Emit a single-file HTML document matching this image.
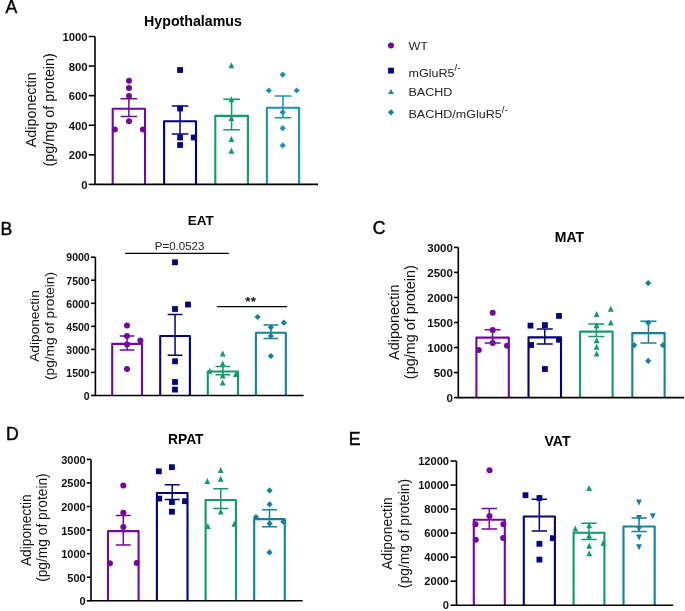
<!DOCTYPE html>
<html><head><meta charset="utf-8"><style>
html,body{margin:0;padding:0;background:#fff;}
svg{display:block;font-family:"Liberation Sans", sans-serif;}
svg{will-change:transform;}
</style></head><body>
<svg width="685" height="611" viewBox="0 0 685 611">
<rect width="685" height="611" fill="#fff"/>
<text transform="translate(35.60,109.80) rotate(-90)" x="0" y="0" font-size="14.35" text-anchor="middle" fill="#111">Adiponectin</text>
<text transform="translate(53.60,109.80) rotate(-90)" x="0" y="0" font-size="14.35" text-anchor="middle" fill="#111">(pg/mg of protein)</text>
<text x="5.50" y="13.20" font-size="17.6" font-weight="normal" text-anchor="start" fill="#000" stroke="#000" stroke-width="0.45">A</text>
<text x="193.00" y="25.60" font-size="14.2" font-weight="bold" text-anchor="middle" fill="#000" >Hypothalamus</text>
<path d="M112.70,184.40V108.80H145.00V184.40" fill="none" stroke="#73089e" stroke-width="2.1" stroke-linejoin="round"/>
<path d="M164.10,184.40V121.20H196.00V184.40" fill="none" stroke="#03017f" stroke-width="2.1" stroke-linejoin="round"/>
<path d="M215.30,184.40V115.90H247.90V184.40" fill="none" stroke="#129a68" stroke-width="2.1" stroke-linejoin="round"/>
<path d="M266.90,184.40V107.70H299.10V184.40" fill="none" stroke="#1893b2" stroke-width="2.1" stroke-linejoin="round"/>
<circle cx="129.00" cy="80.80" r="3.0" fill="#73089e"/>
<circle cx="129.00" cy="88.00" r="3.0" fill="#73089e"/>
<circle cx="129.00" cy="95.90" r="3.0" fill="#73089e"/>
<circle cx="129.00" cy="121.30" r="3.0" fill="#73089e"/>
<circle cx="114.80" cy="129.60" r="3.0" fill="#73089e"/>
<circle cx="142.90" cy="129.60" r="3.0" fill="#73089e"/>
<rect x="177.20" y="67.10" width="5.8" height="5.8" fill="#03017f"/>
<rect x="177.20" y="105.60" width="5.8" height="5.8" fill="#03017f"/>
<rect x="177.20" y="134.60" width="5.8" height="5.8" fill="#03017f"/>
<rect x="177.20" y="142.10" width="5.8" height="5.8" fill="#03017f"/>
<rect x="190.90" y="134.60" width="5.8" height="5.8" fill="#03017f"/>
<path d="M228.50,68.20L234.30,68.20L231.40,62.20Z" fill="#129a68"/>
<path d="M228.50,102.20L234.30,102.20L231.40,96.20Z" fill="#129a68"/>
<path d="M228.50,121.00L234.30,121.00L231.40,115.00Z" fill="#129a68"/>
<path d="M228.50,142.10L234.30,142.10L231.40,136.10Z" fill="#129a68"/>
<path d="M228.50,153.80L234.30,153.80L231.40,147.80Z" fill="#129a68"/>
<path d="M282.70,71.50L285.80,74.60L282.70,77.70L279.60,74.60Z" fill="#1893b2"/>
<path d="M268.80,87.40L271.90,90.50L268.80,93.60L265.70,90.50Z" fill="#1893b2"/>
<path d="M296.70,87.40L299.80,90.50L296.70,93.60L293.60,90.50Z" fill="#1893b2"/>
<path d="M282.70,109.20L285.80,112.30L282.70,115.40L279.60,112.30Z" fill="#1893b2"/>
<path d="M282.70,125.10L285.80,128.20L282.70,131.30L279.60,128.20Z" fill="#1893b2"/>
<path d="M282.70,142.30L285.80,145.40L282.70,148.50L279.60,145.40Z" fill="#1893b2"/>
<path d="M128.85,98.70V116.40M120.55,98.70H137.15M120.55,116.40H137.15" fill="none" stroke="#73089e" stroke-width="1.5"/>
<path d="M180.05,106.00V133.90M171.75,106.00H188.35M171.75,133.90H188.35" fill="none" stroke="#03017f" stroke-width="1.5"/>
<path d="M231.60,99.20V129.80M223.30,99.20H239.90M223.30,129.80H239.90" fill="none" stroke="#129a68" stroke-width="1.5"/>
<path d="M283.00,95.90V117.70M274.70,95.90H291.30M274.70,117.70H291.30" fill="none" stroke="#1893b2" stroke-width="1.5"/>
<path d="M95.00,36.50V184.40H318.00" fill="none" stroke="#000" stroke-width="1.6"/>
<path d="M88.70,184.40H95.00" stroke="#000" stroke-width="1.6"/>
<text x="87.61" y="188.85" font-size="11.3" font-weight="bold" text-anchor="end" fill="#111" >0</text>
<path d="M88.70,154.82H95.00" stroke="#000" stroke-width="1.6"/>
<text x="87.61" y="159.27" font-size="11.3" font-weight="bold" text-anchor="end" fill="#111" >200</text>
<path d="M88.70,125.24H95.00" stroke="#000" stroke-width="1.6"/>
<text x="87.61" y="129.69" font-size="11.3" font-weight="bold" text-anchor="end" fill="#111" >400</text>
<path d="M88.70,95.66H95.00" stroke="#000" stroke-width="1.6"/>
<text x="87.61" y="100.11" font-size="11.3" font-weight="bold" text-anchor="end" fill="#111" >600</text>
<path d="M88.70,66.08H95.00" stroke="#000" stroke-width="1.6"/>
<text x="87.61" y="70.53" font-size="11.3" font-weight="bold" text-anchor="end" fill="#111" >800</text>
<path d="M88.70,36.50H95.00" stroke="#000" stroke-width="1.6"/>
<text x="87.61" y="40.95" font-size="11.3" font-weight="bold" text-anchor="end" fill="#111" >1000</text>
<text transform="translate(39.40,326.00) rotate(-90)" x="0" y="0" font-size="13.7" text-anchor="middle" fill="#111">Adiponectin</text>
<text transform="translate(54.20,326.00) rotate(-90)" x="0" y="0" font-size="13.7" text-anchor="middle" fill="#111">(pg/mg of protein)</text>
<text x="0.50" y="234.80" font-size="17.6" font-weight="normal" text-anchor="start" fill="#000" stroke="#000" stroke-width="0.45">B</text>
<text x="200.80" y="225.10" font-size="13.5" font-weight="bold" text-anchor="middle" fill="#000" >EAT</text>
<path d="M112.20,395.50V343.90H142.00V395.50" fill="none" stroke="#73089e" stroke-width="2.1" stroke-linejoin="round"/>
<path d="M160.20,395.50V336.00H189.90V395.50" fill="none" stroke="#03017f" stroke-width="2.1" stroke-linejoin="round"/>
<path d="M207.80,395.50V371.50H238.00V395.50" fill="none" stroke="#129a68" stroke-width="2.1" stroke-linejoin="round"/>
<path d="M255.90,395.50V332.70H285.80V395.50" fill="none" stroke="#15809a" stroke-width="2.1" stroke-linejoin="round"/>
<circle cx="127.00" cy="325.40" r="3.0" fill="#73089e"/>
<circle cx="127.00" cy="336.00" r="3.0" fill="#73089e"/>
<circle cx="140.40" cy="340.40" r="3.0" fill="#73089e"/>
<circle cx="127.00" cy="344.60" r="3.0" fill="#73089e"/>
<circle cx="127.00" cy="368.90" r="3.0" fill="#73089e"/>
<rect x="172.10" y="259.40" width="5.8" height="5.8" fill="#03017f"/>
<rect x="172.10" y="306.10" width="5.8" height="5.8" fill="#03017f"/>
<rect x="185.10" y="301.60" width="5.8" height="5.8" fill="#03017f"/>
<rect x="172.10" y="358.40" width="5.8" height="5.8" fill="#03017f"/>
<rect x="172.10" y="379.10" width="5.8" height="5.8" fill="#03017f"/>
<rect x="172.10" y="386.70" width="5.8" height="5.8" fill="#03017f"/>
<path d="M219.80,356.50L225.60,356.50L222.70,350.50Z" fill="#129a68"/>
<path d="M219.80,366.40L225.60,366.40L222.70,360.40Z" fill="#129a68"/>
<path d="M206.80,373.70L212.60,373.70L209.70,367.70Z" fill="#129a68"/>
<path d="M233.00,377.10L238.80,377.10L235.90,371.10Z" fill="#129a68"/>
<path d="M219.80,378.60L225.60,378.60L222.70,372.60Z" fill="#129a68"/>
<path d="M219.80,385.50L225.60,385.50L222.70,379.50Z" fill="#129a68"/>
<path d="M257.60,313.90L260.70,317.00L257.60,320.10L254.50,317.00Z" fill="#15809a"/>
<path d="M283.90,319.60L287.00,322.70L283.90,325.80L280.80,322.70Z" fill="#15809a"/>
<path d="M270.90,324.20L274.00,327.30L270.90,330.40L267.80,327.30Z" fill="#15809a"/>
<path d="M270.90,332.90L274.00,336.00L270.90,339.10L267.80,336.00Z" fill="#15809a"/>
<path d="M270.90,353.00L274.00,356.10L270.90,359.20L267.80,356.10Z" fill="#15809a"/>
<path d="M127.10,336.00V350.00M119.70,336.00H134.50M119.70,350.00H134.50" fill="none" stroke="#73089e" stroke-width="1.5"/>
<path d="M175.05,314.40V355.20M167.65,314.40H182.45M167.65,355.20H182.45" fill="none" stroke="#03017f" stroke-width="1.5"/>
<path d="M222.90,366.60V374.70M215.50,366.60H230.30M215.50,374.70H230.30" fill="none" stroke="#129a68" stroke-width="1.5"/>
<path d="M270.85,324.90V338.40M263.45,324.90H278.25M263.45,338.40H278.25" fill="none" stroke="#15809a" stroke-width="1.5"/>
<path d="M95.40,257.20V395.50H303.60" fill="none" stroke="#000" stroke-width="1.6"/>
<path d="M91.10,395.50H95.40" stroke="#000" stroke-width="1.6"/>
<text x="89.67" y="399.76" font-size="10.5" font-weight="bold" text-anchor="end" fill="#111" >0</text>
<path d="M91.10,372.45H95.40" stroke="#000" stroke-width="1.6"/>
<text x="89.67" y="376.71" font-size="10.5" font-weight="bold" text-anchor="end" fill="#111" >1500</text>
<path d="M91.10,349.40H95.40" stroke="#000" stroke-width="1.6"/>
<text x="89.67" y="353.66" font-size="10.5" font-weight="bold" text-anchor="end" fill="#111" >3000</text>
<path d="M91.10,326.35H95.40" stroke="#000" stroke-width="1.6"/>
<text x="89.67" y="330.61" font-size="10.5" font-weight="bold" text-anchor="end" fill="#111" >4500</text>
<path d="M91.10,303.30H95.40" stroke="#000" stroke-width="1.6"/>
<text x="89.67" y="307.56" font-size="10.5" font-weight="bold" text-anchor="end" fill="#111" >6000</text>
<path d="M91.10,280.25H95.40" stroke="#000" stroke-width="1.6"/>
<text x="89.67" y="284.51" font-size="10.5" font-weight="bold" text-anchor="end" fill="#111" >7500</text>
<path d="M91.10,257.20H95.40" stroke="#000" stroke-width="1.6"/>
<text x="89.67" y="261.46" font-size="10.5" font-weight="bold" text-anchor="end" fill="#111" >9000</text>
<path d="M125.2,253.3H228.8M217.0,306.7H287.1" stroke="#000" stroke-width="1.3"/>
<text x="179.60" y="249.80" font-size="11.5" font-weight="normal" text-anchor="middle" fill="#222" >P=0.0523</text>
<text x="250.80" y="306.00" font-size="13.5" font-weight="bold" text-anchor="middle" fill="#111" letter-spacing="0.4">**</text>
<text transform="translate(399.40,322.20) rotate(-90)" x="0" y="0" font-size="14.45" text-anchor="middle" fill="#111">Adiponectin</text>
<text transform="translate(415.00,322.20) rotate(-90)" x="0" y="0" font-size="14.45" text-anchor="middle" fill="#111">(pg/mg of protein)</text>
<text x="372.80" y="234.30" font-size="17.6" font-weight="normal" text-anchor="start" fill="#000" stroke="#000" stroke-width="0.45">C</text>
<text x="569.50" y="242.00" font-size="14" font-weight="bold" text-anchor="middle" fill="#000" >MAT</text>
<path d="M476.40,397.60V337.60H508.80V397.60" fill="none" stroke="#73089e" stroke-width="2.1" stroke-linejoin="round"/>
<path d="M528.50,397.60V337.40H561.00V397.60" fill="none" stroke="#03017f" stroke-width="2.1" stroke-linejoin="round"/>
<path d="M580.10,397.60V331.60H612.60V397.60" fill="none" stroke="#129a68" stroke-width="2.1" stroke-linejoin="round"/>
<path d="M632.30,397.60V333.10H664.60V397.60" fill="none" stroke="#15809a" stroke-width="2.1" stroke-linejoin="round"/>
<circle cx="492.70" cy="312.80" r="3.0" fill="#73089e"/>
<circle cx="492.70" cy="330.00" r="3.0" fill="#73089e"/>
<circle cx="492.70" cy="343.00" r="3.0" fill="#73089e"/>
<circle cx="478.80" cy="349.90" r="3.0" fill="#73089e"/>
<circle cx="507.00" cy="345.80" r="3.0" fill="#73089e"/>
<rect x="527.60" y="322.70" width="5.8" height="5.8" fill="#03017f"/>
<rect x="542.00" y="322.20" width="5.8" height="5.8" fill="#03017f"/>
<rect x="556.10" y="313.00" width="5.8" height="5.8" fill="#03017f"/>
<rect x="528.20" y="342.10" width="5.8" height="5.8" fill="#03017f"/>
<rect x="556.10" y="336.90" width="5.8" height="5.8" fill="#03017f"/>
<rect x="542.00" y="366.10" width="5.8" height="5.8" fill="#03017f"/>
<path d="M593.70,317.10L599.50,317.10L596.60,311.10Z" fill="#129a68"/>
<path d="M607.90,311.80L613.70,311.80L610.80,305.80Z" fill="#129a68"/>
<path d="M607.90,325.60L613.70,325.60L610.80,319.60Z" fill="#129a68"/>
<path d="M593.70,328.20L599.50,328.20L596.60,322.20Z" fill="#129a68"/>
<path d="M593.70,343.20L599.50,343.20L596.60,337.20Z" fill="#129a68"/>
<path d="M593.70,349.80L599.50,349.80L596.60,343.80Z" fill="#129a68"/>
<path d="M593.70,356.40L599.50,356.40L596.60,350.40Z" fill="#129a68"/>
<path d="M648.20,280.00L651.30,283.10L648.20,286.20L645.10,283.10Z" fill="#15809a"/>
<path d="M648.20,319.70L651.30,322.80L648.20,325.90L645.10,322.80Z" fill="#15809a"/>
<path d="M634.20,342.10L637.30,345.20L634.20,348.30L631.10,345.20Z" fill="#15809a"/>
<path d="M662.90,342.10L666.00,345.20L662.90,348.30L659.80,345.20Z" fill="#15809a"/>
<path d="M648.20,357.80L651.30,360.90L648.20,364.00L645.10,360.90Z" fill="#15809a"/>
<path d="M492.60,329.80V343.00M484.60,329.80H500.60M484.60,343.00H500.60" fill="none" stroke="#73089e" stroke-width="1.5"/>
<path d="M544.75,328.90V344.10M536.75,328.90H552.75M536.75,344.10H552.75" fill="none" stroke="#03017f" stroke-width="1.5"/>
<path d="M596.35,324.00V336.50M588.35,324.00H604.35M588.35,336.50H604.35" fill="none" stroke="#129a68" stroke-width="1.5"/>
<path d="M648.45,321.20V342.90M640.45,321.20H656.45M640.45,342.90H656.45" fill="none" stroke="#15809a" stroke-width="1.5"/>
<path d="M458.30,247.40V397.60H684.00" fill="none" stroke="#000" stroke-width="1.6"/>
<path d="M454.00,397.60H458.30" stroke="#000" stroke-width="1.6"/>
<text x="452.92" y="401.72" font-size="11.5" font-weight="bold" text-anchor="end" fill="#111" >0</text>
<path d="M454.00,372.57H458.30" stroke="#000" stroke-width="1.6"/>
<text x="452.92" y="376.68" font-size="11.5" font-weight="bold" text-anchor="end" fill="#111" >500</text>
<path d="M454.00,347.53H458.30" stroke="#000" stroke-width="1.6"/>
<text x="452.92" y="351.65" font-size="11.5" font-weight="bold" text-anchor="end" fill="#111" >1000</text>
<path d="M454.00,322.50H458.30" stroke="#000" stroke-width="1.6"/>
<text x="452.92" y="326.62" font-size="11.5" font-weight="bold" text-anchor="end" fill="#111" >1500</text>
<path d="M454.00,297.47H458.30" stroke="#000" stroke-width="1.6"/>
<text x="452.92" y="301.58" font-size="11.5" font-weight="bold" text-anchor="end" fill="#111" >2000</text>
<path d="M454.00,272.43H458.30" stroke="#000" stroke-width="1.6"/>
<text x="452.92" y="276.55" font-size="11.5" font-weight="bold" text-anchor="end" fill="#111" >2500</text>
<path d="M454.00,247.40H458.30" stroke="#000" stroke-width="1.6"/>
<text x="452.92" y="251.52" font-size="11.5" font-weight="bold" text-anchor="end" fill="#111" >3000</text>
<text transform="translate(30.90,530.20) rotate(-90)" x="0" y="0" font-size="13.75" text-anchor="middle" fill="#111">Adiponectin</text>
<text transform="translate(46.60,527.60) rotate(-90)" x="0" y="0" font-size="13.75" text-anchor="middle" fill="#111">(pg/mg of protein)</text>
<text x="6.00" y="440.10" font-size="17.6" font-weight="normal" text-anchor="start" fill="#000" stroke="#000" stroke-width="0.45">D</text>
<text x="185.80" y="443.60" font-size="13.8" font-weight="bold" text-anchor="middle" fill="#000" >RPAT</text>
<path d="M108.00,600.80V531.10H138.60V600.80" fill="none" stroke="#73089e" stroke-width="2.1" stroke-linejoin="round"/>
<path d="M156.90,600.80V493.00H187.50V600.80" fill="none" stroke="#03017f" stroke-width="2.1" stroke-linejoin="round"/>
<path d="M205.60,600.80V500.00H235.90V600.80" fill="none" stroke="#129a68" stroke-width="2.1" stroke-linejoin="round"/>
<path d="M254.20,600.80V519.10H284.80V600.80" fill="none" stroke="#15809a" stroke-width="2.1" stroke-linejoin="round"/>
<circle cx="123.30" cy="485.40" r="3.0" fill="#73089e"/>
<circle cx="123.30" cy="512.70" r="3.0" fill="#73089e"/>
<circle cx="123.30" cy="527.00" r="3.0" fill="#73089e"/>
<circle cx="109.90" cy="563.20" r="3.0" fill="#73089e"/>
<circle cx="136.70" cy="562.90" r="3.0" fill="#73089e"/>
<rect x="155.90" y="468.40" width="5.8" height="5.8" fill="#03017f"/>
<rect x="169.00" y="464.30" width="5.8" height="5.8" fill="#03017f"/>
<rect x="156.30" y="495.70" width="5.8" height="5.8" fill="#03017f"/>
<rect x="169.00" y="499.10" width="5.8" height="5.8" fill="#03017f"/>
<rect x="182.10" y="498.30" width="5.8" height="5.8" fill="#03017f"/>
<rect x="169.00" y="508.80" width="5.8" height="5.8" fill="#03017f"/>
<path d="M217.80,473.00L223.60,473.00L220.70,467.00Z" fill="#129a68"/>
<path d="M217.80,481.70L223.60,481.70L220.70,475.70Z" fill="#129a68"/>
<path d="M204.40,484.10L210.20,484.10L207.30,478.10Z" fill="#129a68"/>
<path d="M217.80,514.40L223.60,514.40L220.70,508.40Z" fill="#129a68"/>
<path d="M204.90,529.10L210.70,529.10L207.80,523.10Z" fill="#129a68"/>
<path d="M231.40,526.70L237.20,526.70L234.30,520.70Z" fill="#129a68"/>
<path d="M269.60,487.30L272.70,490.40L269.60,493.50L266.50,490.40Z" fill="#15809a"/>
<path d="M269.60,501.20L272.70,504.30L269.60,507.40L266.50,504.30Z" fill="#15809a"/>
<path d="M256.00,514.00L259.10,517.10L256.00,520.20L252.90,517.10Z" fill="#15809a"/>
<path d="M283.40,518.60L286.50,521.70L283.40,524.80L280.30,521.70Z" fill="#15809a"/>
<path d="M269.60,520.50L272.70,523.60L269.60,526.70L266.50,523.60Z" fill="#15809a"/>
<path d="M269.50,549.30L272.60,552.40L269.50,555.50L266.40,552.40Z" fill="#15809a"/>
<path d="M123.30,515.50V545.00M115.80,515.50H130.80M115.80,545.00H130.80" fill="none" stroke="#73089e" stroke-width="1.5"/>
<path d="M172.20,484.70V499.40M164.70,484.70H179.70M164.70,499.40H179.70" fill="none" stroke="#03017f" stroke-width="1.5"/>
<path d="M220.75,488.80V508.60M213.25,488.80H228.25M213.25,508.60H228.25" fill="none" stroke="#129a68" stroke-width="1.5"/>
<path d="M269.50,509.70V526.80M262.00,509.70H277.00M262.00,526.80H277.00" fill="none" stroke="#15809a" stroke-width="1.5"/>
<path d="M91.00,459.40V600.80H302.70" fill="none" stroke="#000" stroke-width="1.6"/>
<path d="M86.80,600.80H91.00" stroke="#000" stroke-width="1.6"/>
<text x="85.70" y="605.24" font-size="11" font-weight="bold" text-anchor="end" fill="#111" >0</text>
<path d="M86.80,577.23H91.00" stroke="#000" stroke-width="1.6"/>
<text x="85.70" y="581.67" font-size="11" font-weight="bold" text-anchor="end" fill="#111" >500</text>
<path d="M86.80,553.67H91.00" stroke="#000" stroke-width="1.6"/>
<text x="85.70" y="558.10" font-size="11" font-weight="bold" text-anchor="end" fill="#111" >1000</text>
<path d="M86.80,530.10H91.00" stroke="#000" stroke-width="1.6"/>
<text x="85.70" y="534.54" font-size="11" font-weight="bold" text-anchor="end" fill="#111" >1500</text>
<path d="M86.80,506.53H91.00" stroke="#000" stroke-width="1.6"/>
<text x="85.70" y="510.97" font-size="11" font-weight="bold" text-anchor="end" fill="#111" >2000</text>
<path d="M86.80,482.97H91.00" stroke="#000" stroke-width="1.6"/>
<text x="85.70" y="487.40" font-size="11" font-weight="bold" text-anchor="end" fill="#111" >2500</text>
<path d="M86.80,459.40H91.00" stroke="#000" stroke-width="1.6"/>
<text x="85.70" y="463.84" font-size="11" font-weight="bold" text-anchor="end" fill="#111" >3000</text>
<text transform="translate(392.00,533.50) rotate(-90)" x="0" y="0" font-size="13.85" text-anchor="middle" fill="#111">Adiponectin</text>
<text transform="translate(409.00,533.50) rotate(-90)" x="0" y="0" font-size="13.85" text-anchor="middle" fill="#111">(pg/mg of protein)</text>
<text x="348.80" y="444.80" font-size="17.6" font-weight="normal" text-anchor="start" fill="#000" stroke="#000" stroke-width="0.45">E</text>
<text x="557.50" y="446.40" font-size="14" font-weight="bold" text-anchor="middle" fill="#000" >VAT</text>
<path d="M473.80,605.20V519.70H504.80V605.20" fill="none" stroke="#73089e" stroke-width="2.1" stroke-linejoin="round"/>
<path d="M523.80,605.20V516.50H554.90V605.20" fill="none" stroke="#03017f" stroke-width="2.1" stroke-linejoin="round"/>
<path d="M573.60,605.20V532.70H604.40V605.20" fill="none" stroke="#129a68" stroke-width="2.1" stroke-linejoin="round"/>
<path d="M623.50,605.20V526.50H654.70V605.20" fill="none" stroke="#15809a" stroke-width="2.1" stroke-linejoin="round"/>
<circle cx="489.50" cy="470.30" r="3.0" fill="#73089e"/>
<circle cx="489.50" cy="516.00" r="3.0" fill="#73089e"/>
<circle cx="475.50" cy="524.20" r="3.0" fill="#73089e"/>
<circle cx="503.40" cy="524.20" r="3.0" fill="#73089e"/>
<circle cx="475.80" cy="539.80" r="3.0" fill="#73089e"/>
<circle cx="503.10" cy="538.00" r="3.0" fill="#73089e"/>
<rect x="522.60" y="492.30" width="5.8" height="5.8" fill="#03017f"/>
<rect x="536.50" y="495.10" width="5.8" height="5.8" fill="#03017f"/>
<rect x="549.90" y="535.30" width="5.8" height="5.8" fill="#03017f"/>
<rect x="536.50" y="540.90" width="5.8" height="5.8" fill="#03017f"/>
<rect x="536.50" y="556.70" width="5.8" height="5.8" fill="#03017f"/>
<path d="M586.20,491.00L592.00,491.00L589.10,485.00Z" fill="#129a68"/>
<path d="M572.40,531.60L578.20,531.60L575.30,525.60Z" fill="#129a68"/>
<path d="M586.30,528.20L592.10,528.20L589.20,522.20Z" fill="#129a68"/>
<path d="M586.30,538.60L592.10,538.60L589.20,532.60Z" fill="#129a68"/>
<path d="M586.30,548.70L592.10,548.70L589.20,542.70Z" fill="#129a68"/>
<path d="M586.30,556.30L592.10,556.30L589.20,550.30Z" fill="#129a68"/>
<path d="M600.40,545.70L606.20,545.70L603.30,539.70Z" fill="#129a68"/>
<path d="M636.10,499.40L641.90,499.40L639.00,505.40Z" fill="#15809a"/>
<path d="M649.90,513.30L655.70,513.30L652.80,519.30Z" fill="#15809a"/>
<path d="M636.10,514.90L641.90,514.90L639.00,520.90Z" fill="#15809a"/>
<path d="M636.10,526.20L641.90,526.20L639.00,532.20Z" fill="#15809a"/>
<path d="M636.10,534.60L641.90,534.60L639.00,540.60Z" fill="#15809a"/>
<path d="M636.10,544.30L641.90,544.30L639.00,550.30Z" fill="#15809a"/>
<path d="M489.30,508.40V529.10M481.60,508.40H497.00M481.60,529.10H497.00" fill="none" stroke="#73089e" stroke-width="1.5"/>
<path d="M539.35,499.30V530.90M531.65,499.30H547.05M531.65,530.90H547.05" fill="none" stroke="#03017f" stroke-width="1.5"/>
<path d="M589.00,523.30V539.50M581.30,523.30H596.70M581.30,539.50H596.70" fill="none" stroke="#129a68" stroke-width="1.5"/>
<path d="M639.10,517.90V531.40M631.40,517.90H646.80M631.40,531.40H646.80" fill="none" stroke="#15809a" stroke-width="1.5"/>
<path d="M456.50,461.00V605.20H673.10" fill="none" stroke="#000" stroke-width="1.6"/>
<path d="M450.50,605.20H456.50" stroke="#000" stroke-width="1.6"/>
<text x="449.00" y="609.17" font-size="11.1" font-weight="bold" text-anchor="end" fill="#111" >0</text>
<path d="M450.50,581.17H456.50" stroke="#000" stroke-width="1.6"/>
<text x="449.00" y="585.14" font-size="11.1" font-weight="bold" text-anchor="end" fill="#111" >2000</text>
<path d="M450.50,557.13H456.50" stroke="#000" stroke-width="1.6"/>
<text x="449.00" y="561.11" font-size="11.1" font-weight="bold" text-anchor="end" fill="#111" >4000</text>
<path d="M450.50,533.10H456.50" stroke="#000" stroke-width="1.6"/>
<text x="449.00" y="537.07" font-size="11.1" font-weight="bold" text-anchor="end" fill="#111" >6000</text>
<path d="M450.50,509.07H456.50" stroke="#000" stroke-width="1.6"/>
<text x="449.00" y="513.04" font-size="11.1" font-weight="bold" text-anchor="end" fill="#111" >8000</text>
<path d="M450.50,485.03H456.50" stroke="#000" stroke-width="1.6"/>
<text x="449.00" y="489.01" font-size="11.1" font-weight="bold" text-anchor="end" fill="#111" >10000</text>
<path d="M450.50,461.00H456.50" stroke="#000" stroke-width="1.6"/>
<text x="449.00" y="464.97" font-size="11.1" font-weight="bold" text-anchor="end" fill="#111" >12000</text>
<circle cx="391.00" cy="45.60" r="3.0" fill="#73089e"/>
<text transform="translate(408.50,49.50) scale(1.09,1)" font-size="11.5" font-weight="normal" text-anchor="start" fill="#222" >WT</text>
<rect x="388.10" y="67.70" width="5.8" height="5.8" fill="#03017f"/>
<text transform="translate(408.50,76.60) scale(1.09,1)" font-size="11.5" font-weight="normal" text-anchor="start" fill="#222" >mGluR5<tspan font-size="9" dy="-5.5">/-</tspan></text>
<path d="M387.95,93.90L394.05,93.90L391.00,88.90Z" fill="#129a68"/>
<text transform="translate(408.50,95.80) scale(1.09,1)" font-size="11.5" font-weight="normal" text-anchor="start" fill="#222" >BACHD</text>
<path d="M391.00,109.20L394.10,112.30L391.00,115.40L387.90,112.30Z" fill="#15809a"/>
<text transform="translate(408.50,118.00) scale(1.09,1)" font-size="11.5" font-weight="normal" text-anchor="start" fill="#222" >BACHD/mGluR5<tspan font-size="9" dy="-5.5">/-</tspan></text>
</svg>
</body></html>
